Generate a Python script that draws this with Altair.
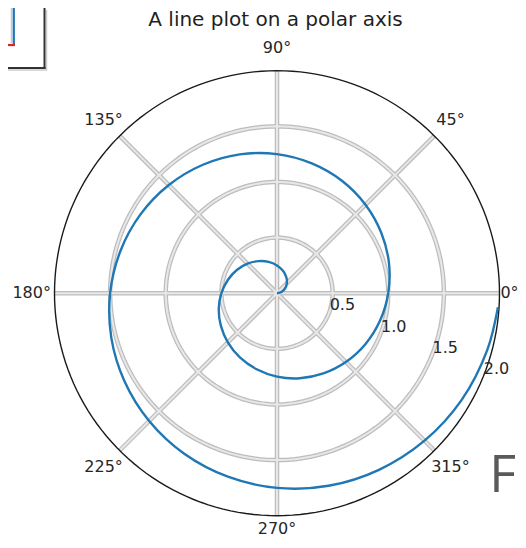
import altair as alt
import pandas as pd

# ---------------- data ----------------
title_text = "A line plot on a polar axis"

spiral_theta_deg = [0, 15, 30, 45, 60, 75, 90, 105, 120, 135, 150, 165,
                    180, 195, 210, 225, 240, 255, 270, 285, 300, 315, 330, 345,
                    360, 375, 390, 405, 420, 435, 450, 465, 480, 495, 510, 525,
                    540, 555, 570, 585, 600, 615, 630, 645, 660, 675, 690, 705,
                    716.4]
spiral_r = [0.000, 0.042, 0.083, 0.125, 0.167, 0.208, 0.250, 0.292, 0.333, 0.375,
            0.417, 0.458, 0.500, 0.542, 0.583, 0.625, 0.667, 0.708, 0.750, 0.792,
            0.833, 0.875, 0.917, 0.958, 1.000, 1.042, 1.083, 1.125, 1.167, 1.208,
            1.250, 1.292, 1.333, 1.375, 1.417, 1.458, 1.500, 1.542, 1.583, 1.625,
            1.667, 1.708, 1.750, 1.792, 1.833, 1.875, 1.917, 1.958, 1.990]

r_ticks = [0.5, 1.0, 1.5, 2.0]
r_tick_labels = ["0.5", "1.0", "1.5", "2.0"]
theta_ticks = [0, 45, 90, 135, 180, 225, 270, 315]
theta_tick_labels = ["0°", "45°", "90°", "135°", "180°", "225°", "270°", "315°"]
r_max = 2.0
r_label_angle = -22.5

# ---------------- layout ----------------
W, H = 510, 532
CX, CY = 269.0, 285.2          # centre of the polar axes inside the plot area
K = 111.25                     # pixels per radial unit
x_dom = [-CX / K, (W - CX) / K]
y_dom = [-(H - CY) / K, CY / K]

FONT = "DejaVu Sans"
TXT = "#262626"

xs = alt.Scale(domain=x_dom, nice=False, zero=False)
ys = alt.Scale(domain=y_dom, nice=False, zero=False)


def X(f):
    return alt.X(f, type="quantitative", scale=xs, axis=None)


def Y(f):
    return alt.Y(f, type="quantitative", scale=ys, axis=None)


# spiral
spiral_df = pd.DataFrame({"theta": spiral_theta_deg, "r": spiral_r,
                          "idx": list(range(len(spiral_r)))})
# grid circles (built from the tick list)
circ_rows = []
for r in r_ticks:
    for a in range(0, 362, 2):
        circ_rows.append({"r": r, "theta": a, "idx": a})
circ_df = pd.DataFrame(circ_rows)
radial_df = pd.DataFrame({"theta": theta_ticks, "rmax": [r_max] * len(theta_ticks)})
tl_df = pd.DataFrame({"theta": theta_ticks, "label": theta_tick_labels})
rl_df = pd.DataFrame({"r": r_ticks, "label": r_tick_labels})

to_xy = dict(x="datum.r * cos(datum.theta * PI / 180)",
             y="datum.r * sin(datum.theta * PI / 180)")

# radial grid lines
radial_base = alt.Chart(radial_df).transform_calculate(
    x0="0", y0="0",
    x1="datum.rmax * cos(datum.theta * PI / 180)",
    y1="datum.rmax * sin(datum.theta * PI / 180)")
radial_outer = radial_base.mark_rule(color="#bdbdbd", strokeWidth=4.5).encode(
    x=X("x0:Q"), y=Y("y0:Q"), x2="x1:Q", y2="y1:Q")
radial_inner = radial_base.mark_rule(color="#e8e8e8", strokeWidth=2).encode(
    x=X("x0:Q"), y=Y("y0:Q"), x2="x1:Q", y2="y1:Q")

# circular grid lines
circ_base = alt.Chart(circ_df).transform_filter("datum.r < 2").transform_calculate(**to_xy)
circ_outer = circ_base.mark_line(color="#bdbdbd", strokeWidth=4.5).encode(
    x=X("x:Q"), y=Y("y:Q"), detail="r:N", order="idx:Q")
circ_inner = circ_base.mark_line(color="#e8e8e8", strokeWidth=2).encode(
    x=X("x:Q"), y=Y("y:Q"), detail="r:N", order="idx:Q")

# outer spine
spine = alt.Chart(circ_df).transform_filter("datum.r == 2").transform_calculate(**to_xy) \
    .mark_line(color="#1a1a1a", strokeWidth=1.4).encode(
        x=X("x:Q"), y=Y("y:Q"), order="idx:Q")

# spiral line
spiral = alt.Chart(spiral_df).transform_calculate(**to_xy).mark_line(
    color="#1f77b4", strokeWidth=2.4, interpolate="catmull-rom").encode(
    x=X("x:Q"), y=Y("y:Q"), order="idx:Q")

# angle labels (the 0° and 270° ones pulled in slightly so they stay inside the page)
theta_lbl = alt.Chart(tl_df).transform_calculate(
    lr="datum.theta == 0 ? 2.09 : (datum.theta == 270 ? 2.12 : 2.205)"
).transform_calculate(
    x="datum.lr * cos(datum.theta * PI / 180)",
    y="datum.lr * sin(datum.theta * PI / 180)").mark_text(
    font=FONT, fontSize=16, color=TXT, align="center", baseline="middle").encode(
    x=X("x:Q"), y=Y("y:Q"), text="label:N")

# radial labels
r_lbl = alt.Chart(rl_df).transform_calculate(
    x=f"datum.r * cos({r_label_angle} * PI / 180)",
    y=f"datum.r * sin({r_label_angle} * PI / 180)").mark_text(
    font=FONT, fontSize=16, color=TXT, align="center", baseline="middle",
    dx=14, dy=-9).encode(
    x=X("x:Q"), y=Y("y:Q"), text="label:N")

# title
title = alt.Chart(pd.DataFrame({"t": [title_text]})).mark_text(
    font=FONT, fontSize=20, color="#1f1f1f", align="center",
    baseline="alphabetic").encode(
    x=alt.value(267.5), y=alt.value(17.5), text="t:N")

# fragments of neighbouring figures visible at the edges
frag = pd.DataFrame({"a": [0]})
box_r = alt.Chart(frag).mark_rule(color="#333333", strokeWidth=2).encode(
    x=alt.value(36.5), x2=alt.value(36.5), y=alt.value(0), y2=alt.value(61))
box_r_sh = alt.Chart(frag).mark_rule(color="#cccccc", strokeWidth=1.5).encode(
    x=alt.value(38.5), x2=alt.value(38.5), y=alt.value(2), y2=alt.value(62.5))
box_b = alt.Chart(frag).mark_rule(color="#333333", strokeWidth=2).encode(
    x=alt.value(0), x2=alt.value(37.5), y=alt.value(60), y2=alt.value(60))
box_b_sh = alt.Chart(frag).mark_rule(color="#cccccc", strokeWidth=1.5).encode(
    x=alt.value(0), x2=alt.value(39), y=alt.value(62), y2=alt.value(62))
blue_v = alt.Chart(frag).mark_rule(color="#1f77b4", strokeWidth=2.2).encode(
    x=alt.value(5.8), x2=alt.value(5.8), y=alt.value(0), y2=alt.value(36))
gray_v = alt.Chart(frag).mark_rule(color="#c8c8c8", strokeWidth=1.5).encode(
    x=alt.value(3.5), x2=alt.value(3.5), y=alt.value(0), y2=alt.value(35))
red_h = alt.Chart(frag).mark_rule(color="#d62728", strokeWidth=2.2).encode(
    x=alt.value(0), x2=alt.value(7), y=alt.value(37), y2=alt.value(37))
big_f = alt.Chart(pd.DataFrame({"t": ["F"]})).mark_text(
    font="Open Sans", fontSize=52, color="#5a5a5a", align="right",
    baseline="alphabetic").encode(
    x=alt.value(508), y=alt.value(484), text="t:N")

chart = alt.layer(
    radial_outer, circ_outer, radial_inner, circ_inner, spine,
    theta_lbl, r_lbl, spiral, title,
    box_r_sh, box_b_sh, gray_v, blue_v, red_h, box_r, box_b, big_f
).properties(
    width=W, height=H, padding=0,
    autosize=alt.AutoSizeParams(type="none"),
    background="white"
).configure_view(stroke=None)

chart.save("out.html", embed_options={"renderer": "svg", "actions": False})
